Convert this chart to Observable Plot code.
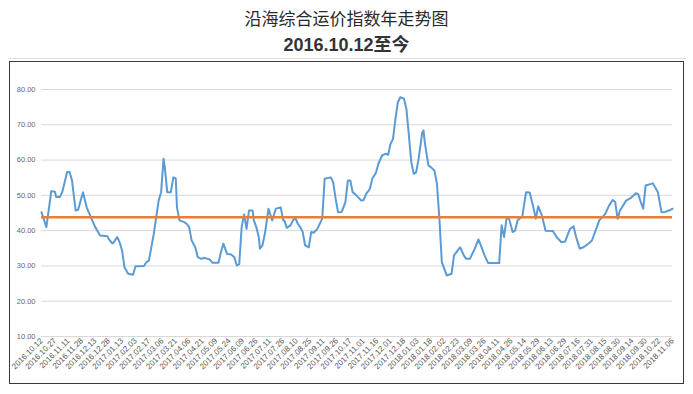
<!DOCTYPE html>
<html>
<head>
<meta charset="utf-8">
<script src="https://cdn.jsdelivr.net/npm/d3@7"></script>
<script src="https://cdn.jsdelivr.net/npm/@observablehq/plot@0.6"></script>
<style>
  html, body { margin: 0; padding: 0; background: #fff; }
  body { width: 693px; height: 394px; position: relative; overflow: hidden; font-family: "Noto Sans CJK SC", "Liberation Sans", sans-serif; }
  #title { position: absolute; left: 0; width: 693px; top: 7px; text-align: center; font-size: 17px; line-height: 22px; color: #2a2a2a; }
  #subtitle { position: absolute; left: 0; width: 693px; top: 34px; text-align: center; font-size: 18px; line-height: 22px; font-weight: bold; color: #333; font-family: "Liberation Sans", "Noto Sans CJK SC", sans-serif; }
  #sep { position: absolute; left: 8px; width: 678px; top: 58px; height: 0; border-top: 1.5px solid #e2e2e2; }
  #frame { position: absolute; left: 9px; top: 61px; width: 673px; height: 321px; border: 1.5px solid #3a3a3a; }
  #chart { position: absolute; left: 10px; top: 62px; }
</style>
</head>
<body>
<div id="title">沿海综合运价指数年走势图</div>
<div id="subtitle">2016.10.12至今</div>
<div id="sep"></div>
<div id="frame"></div>
<div id="chart"></div>
<script>
// trading-day index along the axis (11 trading days between labels)
const days = [
  0,4,8,11,12,15,17,21,23,25,
  28,30,34,37,41,44,48,54,55,58,
  59,62,64,66,68,71,75,77,84,86,
  88,92,94,96,98,100,101,103,106,108,
  110,111,113,117,119,121,123,126,128,131,
  133,136,138,140,145,147,149,152,155,158,
  160,162,164,166,168,170,173,174,176,178,
  179,181,183,185,186,189,192,196,198,199,
  201,204,206,208,210,212,214,216,219,221,
  223,226,230,231,232,237,239,241,243,246,
  249,251,253,255,258,262,264,266,269,271,
  274,276,279,282,284,286,288,290,292,294,
  297,299,301,303,305,307,309,312,313,314,
  317,319,322,324,326,328,332,336,338,340,
  343,346,348,351,355,358,360,363,366,375,
  377,379,381,383,386,388,390,394,397,400,
  403,405,407,410,413,419,422,426,429,433,
  436,438,441,444,448,451,455,457,460,462,
  465,468,470,472,474,479,483,487,489,491,
  493,495,501,505,508,511,514,517
];
const indexValues = [
  45.2,41.0,51.2,51.0,49.5,49.5,50.9,56.6,56.6,54.2,
  45.7,45.9,50.9,46.6,43.4,41.0,38.6,38.4,37.7,36.4,
  36.6,38.2,36.7,34.4,29.6,27.8,27.5,29.9,30.0,31.1,
  31.5,39.1,43.8,48.5,50.9,60.4,58.0,50.9,50.9,55.1,
  54.8,46.6,42.9,42.4,41.9,41.0,37.2,35.3,32.5,32.0,
  32.3,32.0,31.8,30.9,30.9,33.9,36.3,33.4,33.3,32.5,
  30.1,30.5,41.0,44.6,40.5,45.7,45.7,42.9,41.0,38.2,
  34.9,35.8,39.1,43.8,46.2,42.9,46.2,46.6,42.9,42.9,
  40.8,41.5,42.9,43.6,41.9,41.0,39.6,35.8,35.3,39.6,
  39.4,40.5,43.4,49.0,54.7,55.1,53.7,49.0,45.2,45.3,
  48.1,54.2,54.2,50.9,50.0,48.5,48.7,50.4,51.8,54.7,
  56.4,58.9,61.3,61.8,61.5,64.6,66.0,71.7,76.4,77.8,
  77.4,74.5,67.0,59.4,56.1,56.6,60.4,67.9,68.4,65.1,
  58.5,58.0,57.0,53.3,43.4,31.1,27.3,27.8,33.0,33.9,
  35.3,33.0,32.0,32.0,34.9,37.5,35.8,33.0,30.8,30.8,
  41.5,38.2,43.4,43.5,39.6,40.0,42.9,44.1,50.9,50.8,
  46.6,43.4,46.9,44.3,40.0,39.9,38.2,36.7,36.9,40.5,
  41.2,38.2,34.9,35.3,36.3,37.2,41.0,42.9,44.0,44.8,
  47.1,48.7,48.2,43.4,45.7,48.5,49.3,50.6,50.3,48.1,
  46.2,52.8,53.4,50.9,45.2,45.3,45.7,46.2
];
const averageValue = 43.8;
const tickLabels = [
  "2016.10.12","2016.10.27","2016.11.11","2016.11.28","2016.12.13","2016.12.28",
  "2017.01.13","2017.02.03","2017.02.17","2017.03.06","2017.03.21","2017.04.06",
  "2017.04.21","2017.05.09","2017.05.24","2017.06.09","2017.06.26","2017.07.11",
  "2017.07.26","2017.08.10","2017.08.25","2017.09.11","2017.09.26","2017.10.17",
  "2017.11.01","2017.11.16","2017.12.01","2017.12.18","2018.01.03","2018.01.18",
  "2018.02.02","2018.02.23","2018.03.09","2018.03.26","2018.04.11","2018.04.26",
  "2018.05.14","2018.05.29","2018.06.13","2018.06.29","2018.07.16","2018.07.31",
  "2018.08.15","2018.08.30","2018.09.14","2018.09.30","2018.10.22","2018.11.06"
];
const tickStep = 11;
const yTicks = [10, 20, 30, 40, 50, 60, 70, 80];

const data = days.map((d, i) => ({day: d, value: indexValues[i]}));
const tickDays = tickLabels.map((_, i) => i * tickStep);
const labelOf = new Map(tickDays.map((d, i) => [d, tickLabels[i]]));

const chart = Plot.plot({
  width: 672,
  height: 320,
  marginLeft: 31,
  marginRight: 10,
  marginTop: 27,
  marginBottom: 46,
  style: {fontFamily: "Liberation Sans, Arial, sans-serif", background: "transparent"},
  x: {domain: [0, tickDays[tickDays.length - 1]]},
  y: {domain: [10, 80]},
  marks: [
    Plot.gridY(yTicks, {stroke: "#d9d9d9", strokeOpacity: 1, strokeWidth: 1}),
    Plot.axisY(yTicks, {tickSize: 0, tickPadding: 6, tickFormat: d3.format(".2f"), fontSize: 7.5, fill: "#666", label: null}),
    Plot.axisX(tickDays, {tickSize: 0, tickPadding: 3, tickRotate: -45, tickFormat: d => labelOf.get(d), fontSize: 8, fill: "#595959", label: null}),
    Plot.line(data, {x: "day", y: "value", stroke: "#5B9BD5", strokeWidth: 2, curve: "linear"}),
    Plot.ruleY([averageValue], {x1: days[0], x2: days[days.length - 1], stroke: "#ED7D31", strokeWidth: 2.5})
  ]
});
document.getElementById("chart").appendChild(chart);
</script>
</body>
</html>
